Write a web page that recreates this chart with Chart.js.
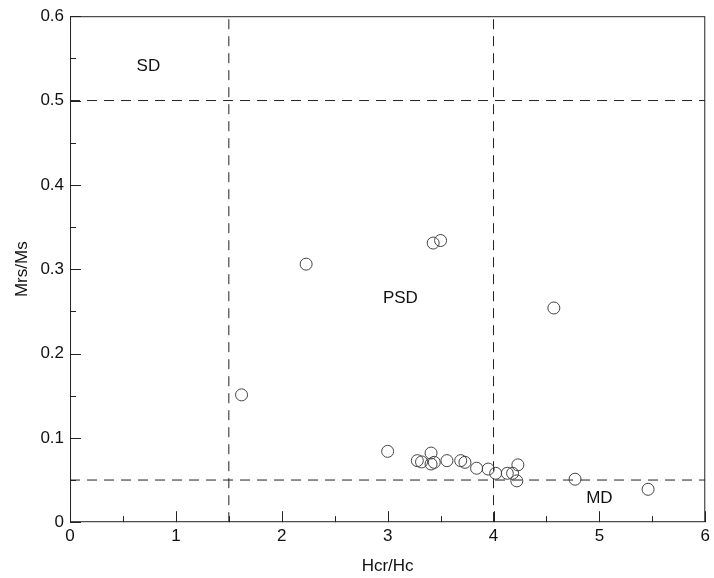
<!DOCTYPE html>
<html>
<head>
<meta charset="UTF-8">
<title>Mrs/Ms vs Hcr/Hc</title>
<script src="https://cdn.jsdelivr.net/npm/chart.js"></script>
<style>
  html, body { margin: 0; padding: 0; background: #fff; }
  #wrap { width: 714px; height: 578px; }
</style>
</head>
<body>
<div id="wrap"><canvas id="c" width="714" height="578"></canvas></div>
<script>
// samples (Hcr/Hc, Mrs/Ms)
const hcrHc = [1.62, 2.23, 3.43, 3.50, 4.57, 3.00, 3.28, 3.32, 3.41, 3.41, 3.44,
               3.56, 3.69, 3.73, 3.84, 3.95, 4.02, 4.13, 4.18, 4.23, 4.22, 4.77, 5.46];
const mrsMs = [0.151, 0.306, 0.331, 0.334, 0.254, 0.084, 0.073, 0.0715, 0.082, 0.069, 0.071,
               0.073, 0.073, 0.071, 0.064, 0.063, 0.058, 0.058, 0.058, 0.068, 0.049, 0.051, 0.039];

// Day plot domain boundaries
const hcrLimits = [1.5, 4];
const mrsLimits = [0.5, 0.05];

// region labels
const regionNames = ["SD", "PSD", "MD"];
const regionX = [0.74, 3.12, 5.0];
const regionY = [0.54, 0.265, 0.028];

const FONT = '"Liberation Sans", Arial, sans-serif';

const points = hcrHc.map((x, i) => ({ x: x, y: mrsMs[i] }));

const limitSets = [];
hcrLimits.forEach(v => limitSets.push([{ x: v, y: 0 }, { x: v, y: 0.6 }]));
mrsLimits.forEach(v => limitSets.push([{ x: 0, y: v }, { x: 6, y: v }]));

const frame = {
  id: 'frame',
  afterDraw(chart) {
    const ctx = chart.ctx, a = chart.chartArea;
    const xs = chart.scales.x, ys = chart.scales.y;
    ctx.save();
    ctx.strokeStyle = '#222';
    ctx.lineWidth = 1;
    ctx.strokeRect(a.left + 0.5, a.top + 0.5, a.right - a.left - 1, a.bottom - a.top - 1);
    ctx.beginPath();
    for (let v = 0; v <= 6.001; v += 0.5) {
      const px = Math.round(xs.getPixelForValue(v)) + 0.5;
      const len = Math.abs(v - Math.round(v)) < 0.01 ? 11 : 6;
      ctx.moveTo(px, a.bottom);
      ctx.lineTo(px, a.bottom - len);
    }
    for (let v = 0; v <= 0.6001; v += 0.05) {
      const py = Math.round(ys.getPixelForValue(v)) + 0.5;
      const len = Math.abs(v * 10 - Math.round(v * 10)) < 0.01 ? 11 : 6;
      ctx.moveTo(a.left, py);
      ctx.lineTo(a.left + len, py);
    }
    ctx.stroke();

    ctx.fillStyle = '#111';
    ctx.font = '17px ' + FONT;
    ctx.textAlign = 'center';
    ctx.textBaseline = 'middle';
    regionNames.forEach((t, i) => {
      ctx.fillText(t, xs.getPixelForValue(regionX[i]), ys.getPixelForValue(regionY[i]));
    });
    ctx.restore();
  }
};

const datasets = [{
  type: 'scatter',
  data: points,
  pointStyle: 'circle',
  pointRadius: 6,
  pointBorderWidth: 1,
  pointBorderColor: '#444',
  pointBackgroundColor: 'rgba(0,0,0,0)',
  order: 0
}];
limitSets.forEach(d => datasets.push({
  type: 'line',
  data: d,
  borderColor: '#222',
  borderWidth: 1,
  borderDash: [10, 7],
  pointRadius: 0,
  fill: false,
  order: 1
}));

new Chart(document.getElementById('c'), {
  data: { datasets: datasets },
  options: {
    responsive: false,
    animation: false,
    layout: { padding: { left: 12, right: -3, top: 2, bottom: 1 } },
    plugins: { legend: { display: false }, tooltip: { enabled: false } },
    scales: {
      x: {
        type: 'linear', min: 0, max: 6,
        ticks: { stepSize: 1, color: '#111', font: { size: 17, family: FONT }, padding: 4 },
        grid: { display: false, drawTicks: false },
        border: { display: false },
        title: { display: true, text: 'Hcr/Hc', color: '#111', font: { size: 17, family: FONT }, padding: { top: 6, bottom: 0 } }
      },
      y: {
        type: 'linear', min: 0, max: 0.6,
        ticks: { stepSize: 0.1, color: '#111', font: { size: 17, family: FONT }, padding: 6,
                 callback: v => Math.abs(v) < 1e-9 ? '0' : v.toFixed(1) },
        grid: { display: false, drawTicks: false },
        border: { display: false },
        title: { display: true, text: 'Mrs/Ms', color: '#111', font: { size: 17, family: FONT }, padding: { top: 0, bottom: 2 } }
      }
    }
  },
  plugins: [frame]
});
</script>
</body>
</html>
